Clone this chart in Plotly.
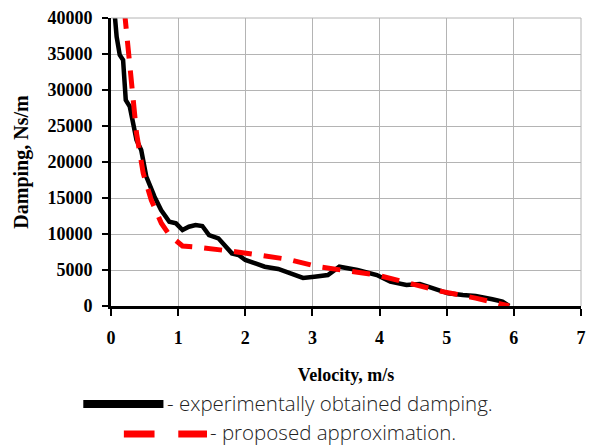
import plotly.graph_objects as go

# Experimental damping curve (velocity m/s, damping Ns/m)
exp_v = [0.03, 0.06, 0.084, 0.13, 0.18, 0.22, 0.28, 0.38, 0.45, 0.526, 0.648, 0.746, 0.869,
         0.968, 1.065, 1.16, 1.26, 1.36, 1.46, 1.6, 1.8, 1.9, 2.0, 2.29, 2.49, 2.64, 2.78,
         2.86, 3.03, 3.23, 3.40, 3.67, 3.96, 4.16, 4.40, 4.60, 4.80, 5.02, 5.24, 5.43, 5.68,
         5.83, 5.93]
exp_d = [41000, 40000, 37400, 34860, 34170, 28600, 27680, 23050, 21670, 17960, 15180, 13330, 11710,
         11480, 10560, 11010, 11250, 11110, 9860, 9400, 7310, 7080, 6390, 5460, 5150, 4700, 4300,
         3900, 4070, 4300, 5460, 5000, 4300, 3380, 2920, 3060, 2460, 1760, 1530, 1390, 930,
         600, 0]

# Proposed approximation
apx_v = [0.2, 0.23, 0.30, 0.38, 0.48, 0.60, 0.75, 0.87, 1.065, 1.31, 1.85, 2.64, 3.08,
         3.96, 4.94, 5.43, 5.93]
apx_d = [41000, 37870, 30930, 24000, 18430, 14720, 11490, 9860, 8330, 8150, 7540, 6480, 5460,
         4300, 1990, 1100, 0]

x_ticks = [0, 1, 2, 3, 4, 5, 6, 7]
y_ticks = [0, 5000, 10000, 15000, 20000, 25000, 30000, 35000, 40000]

legend_labels = ["- experimentally obtained damping.", "- proposed approximation."]

W, H = 592, 446
L, R, T, B = 111, 6, 18, 140
pw, ph = W - L - R, H - T - B


def px(x):
    return (x - L) / pw


def py(y):
    return (H - B - y) / ph


fig = go.Figure()
fig.add_trace(go.Scatter(x=exp_v, y=exp_d, mode="lines",
                         line=dict(color="black", width=4.5), showlegend=False))
fig.add_trace(go.Scatter(x=apx_v, y=apx_d, mode="lines",
                         line=dict(color="#ff0000", width=5, dash="18px,12px"),
                         showlegend=False))

serif = "Liberation Serif, Times New Roman, serif"

fig.update_layout(
    width=W, height=H,
    margin=dict(l=L, r=R, t=T, b=B),
    paper_bgcolor="white", plot_bgcolor="white",
    font=dict(family=serif, color="black"),
    xaxis=dict(range=[0, 7], tickvals=x_ticks, ticktext=[str(t) for t in x_ticks],
               showgrid=True, gridcolor="#b4b4b4", gridwidth=1,
               showline=True, linecolor="black", linewidth=3,
               ticks="outside", ticklen=7, tickwidth=2, tickcolor="black",
               tickfont=dict(family=serif, size=18, weight="bold"),
               ticklabelstandoff=6,
               zeroline=False, mirror=False,
               title=dict(text="Velocity, m/s", font=dict(family=serif, size=18, weight="bold"),
                          standoff=22)),
    yaxis=dict(range=[0, 40000], tickvals=y_ticks, ticktext=[str(t) for t in y_ticks],
               showgrid=True, gridcolor="#b4b4b4", gridwidth=1,
               showline=True, linecolor="black", linewidth=3,
               ticks="outside", ticklen=6, tickwidth=2, tickcolor="black",
               tickfont=dict(family=serif, size=18, weight="bold"),
               ticklabelstandoff=6,
               zeroline=False,
               title=dict(text="Damping, Ns/m", font=dict(family=serif, size=20, weight="bold"),
                          standoff=14)),
)

# outer top/right grid borders
fig.add_shape(type="line", xref="paper", yref="paper", x0=0, x1=1, y0=1, y1=1,
              line=dict(color="#b4b4b4", width=1))
fig.add_shape(type="line", xref="paper", yref="paper", x0=1, x1=1, y0=0, y1=1,
              line=dict(color="#b4b4b4", width=1))

# custom legend
fig.add_shape(type="line", xref="paper", yref="paper", x0=px(83), x1=px(164), y0=py(404), y1=py(404),
              line=dict(color="black", width=8))
fig.add_shape(type="line", xref="paper", yref="paper", x0=px(124), x1=px(155), y0=py(434), y1=py(434),
              line=dict(color="#ff0000", width=7))
fig.add_shape(type="line", xref="paper", yref="paper", x0=px(179), x1=px(208), y0=py(434), y1=py(434),
              line=dict(color="#ff0000", width=7))

sans = "Open Sans, sans-serif"
fig.add_annotation(xref="paper", yref="paper", x=px(166), y=py(403), text=legend_labels[0],
                   showarrow=False, xanchor="left", yanchor="middle",
                   font=dict(family=sans, size=20.5, weight=300, color="#222222"))
fig.add_annotation(xref="paper", yref="paper", x=px(209), y=py(431.5), text=legend_labels[1],
                   showarrow=False, xanchor="left", yanchor="middle",
                   font=dict(family=sans, size=20.5, weight=300, color="#222222"))

fig.write_html("out.html")
